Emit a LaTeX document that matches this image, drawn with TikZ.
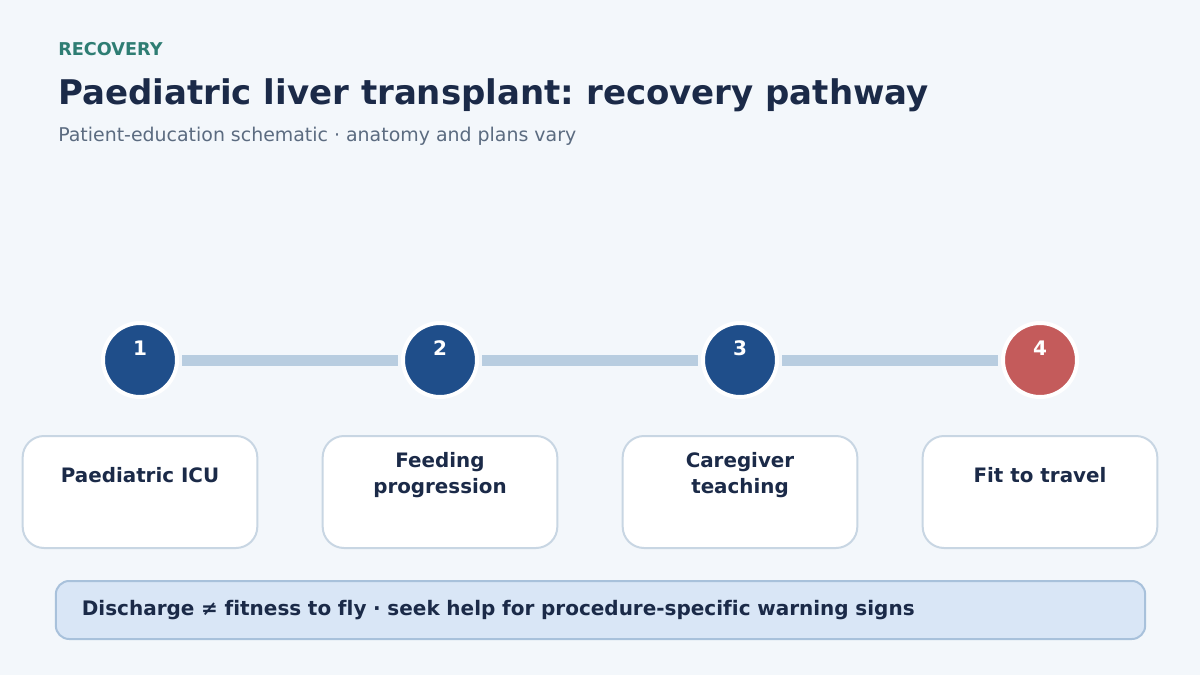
\documentclass[tikz,border=0pt]{standalone}
\usepackage{fontspec}
\setmainfont{DejaVu Sans}[Ligatures=NoCommon]
\usepackage{tikz}
\usetikzlibrary{positioning}
\definecolor{pagebg}{HTML}{F3F7FB}
\definecolor{ink}{HTML}{1B2A48}
\definecolor{teal}{HTML}{2E7D73}
\definecolor{muted}{HTML}{5B6B80}
\definecolor{navy}{HTML}{1F4E8A}
\definecolor{alert}{HTML}{C45B5B}
\definecolor{barblue}{HTML}{B8CDE0}
\definecolor{boxline}{HTML}{C8D6E3}
\definecolor{notefill}{HTML}{D9E6F6}
\definecolor{noteline}{HTML}{A8C1DB}
\frenchspacing

\begin{document}
\begin{tikzpicture}[
  x=0.75pt, y=-0.75pt,
  header/.style={anchor=base west, inner sep=0pt},
  stage/.style={circle, draw=white, line width=3pt, fill=navy, minimum size=55.5pt, inner sep=0pt},
  numtxt/.style={text=white, font=\bfseries\fontsize{15}{18}\selectfont, yshift=9pt},
  stepbox/.style={rectangle, rounded corners=16pt, draw=boxline, line width=1.5pt, fill=white, minimum width=176pt, minimum height=84pt},
  steptxt/.style={text=ink, font=\bfseries\fontsize{14.9}{19.5}\selectfont, align=center, yshift=12.75pt},
  link/.style={draw=barblue, line width=8.25pt, shorten <=2.5pt, shorten >=2.5pt},
  banner/.style={rectangle, rounded corners=10pt, draw=noteline, line width=1.5pt, fill=notefill, minimum width=817pt, minimum height=43.5pt, text width=778pt, inner xsep=19.5pt, align=left, text=ink, font=\bfseries\fontsize{15}{18}\selectfont},
  node distance=27pt
  ]
  \fill[pagebg] (0,0) rectangle (1200,675);
  \useasboundingbox (0,0) rectangle (1200,675);

  % heading
  \node[header, text=teal, font=\bfseries\fontsize{13.25}{15}\selectfont] (kicker) at (58,55) {RECOVERY};
  \node[header, text=ink, font=\bfseries\fontsize{25.5}{30}\selectfont] (title) at (58,104) {Paediatric liver transplant: recovery pathway};
  \node[header, text=muted, font=\fontsize{14.2}{17}\selectfont] (sub) at (58,141) {Patient-education schematic · anatomy and plans vary};

  % stages
  \node[stage, label={[numtxt]center:1}] (c1) at (140,360) {};
  \node[stage, label={[numtxt]center:2}] (c2) at (440,360) {};
  \node[stage, label={[numtxt]center:3}] (c3) at (740,360) {};
  \node[stage, fill=alert, label={[numtxt]center:4}] (c4) at (1040,360) {};
  \draw[link] (c1) -- (c2);
  \draw[link] (c2) -- (c3);
  \draw[link] (c3) -- (c4);

  \node[stepbox, below=of c1, label={[steptxt]center:Paediatric ICU}] (s1) {};
  \node[stepbox, below=of c2, label={[steptxt]center:Feeding\\progression}] (s2) {};
  \node[stepbox, below=of c3, label={[steptxt]center:Caregiver\\teaching}] (s3) {};
  \node[stepbox, below=of c4, label={[steptxt]center:Fit to travel}] (s4) {};

  % note
  \node[banner] (note) at (600.5,610) {Discharge ≠ fitness to fly · seek help for procedure-specific warning signs};
\end{tikzpicture}
\end{document}
